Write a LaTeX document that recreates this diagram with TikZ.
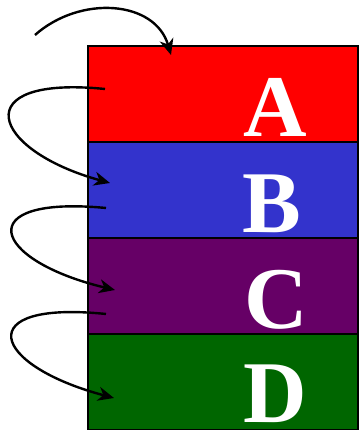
\documentclass[tikz,border=0pt]{standalone}
\usepackage{fontspec}
\setmainfont{Liberation Serif}
\usetikzlibrary{arrows.meta}
\definecolor{boxA}{HTML}{FF0000}
\definecolor{boxB}{HTML}{3333CC}
\definecolor{boxC}{HTML}{660066}
\definecolor{boxD}{HTML}{006600}
\tikzset{
  layer/.style={draw=black, line width=2pt, minimum width=270pt, minimum height=96pt, inner sep=0pt, anchor=north west},
  letter/.style={text=white, font=\fontsize{88}{88}\selectfont\bfseries, anchor=base, inner sep=0pt},
  loop/.style={draw=black, line width=2.4pt, -{Stealth[length=16pt,width=14pt,inset=5pt]}}
}
\begin{document}
\begin{tikzpicture}[x=1pt,y=-1pt]
\useasboundingbox (0,0) rectangle (358,430);
\node[layer, fill=boxA] (A) at (87,45) {};
\node[layer, fill=boxB] (B) at (87,141) {};
\node[layer, fill=boxC] (C) at (87,237) {};
\node[layer, fill=boxD] (D) at (87,333) {};
\node[letter] (lA) at (275,137) {A};
\node[letter] (lB) at (272,232) {B};
\node[letter] (lC) at (276,328) {C};
\node[letter] (lD) at (275,422) {D};
\coordinate (s0) at (35,35);
\coordinate (t0) at (171,55);
\coordinate (s1) at (105,89);
\coordinate (t1) at (110,183);
\coordinate (s2) at (106,208);
\coordinate (t2) at (115,290);
\coordinate (s3) at (106,314);
\coordinate (t3) at (114,398);
\draw[loop] (s0) .. controls (80,-5) and (155,0) .. (t0);
\draw[loop] (s1) .. controls (-35,75) and (-10,150) .. (t1);
\draw[loop] (s2) .. controls (-30,195) and (-10,260) .. (t2);
\draw[loop] (s3) .. controls (-30,300) and (-10,365) .. (t3);
\end{tikzpicture}
\end{document}
